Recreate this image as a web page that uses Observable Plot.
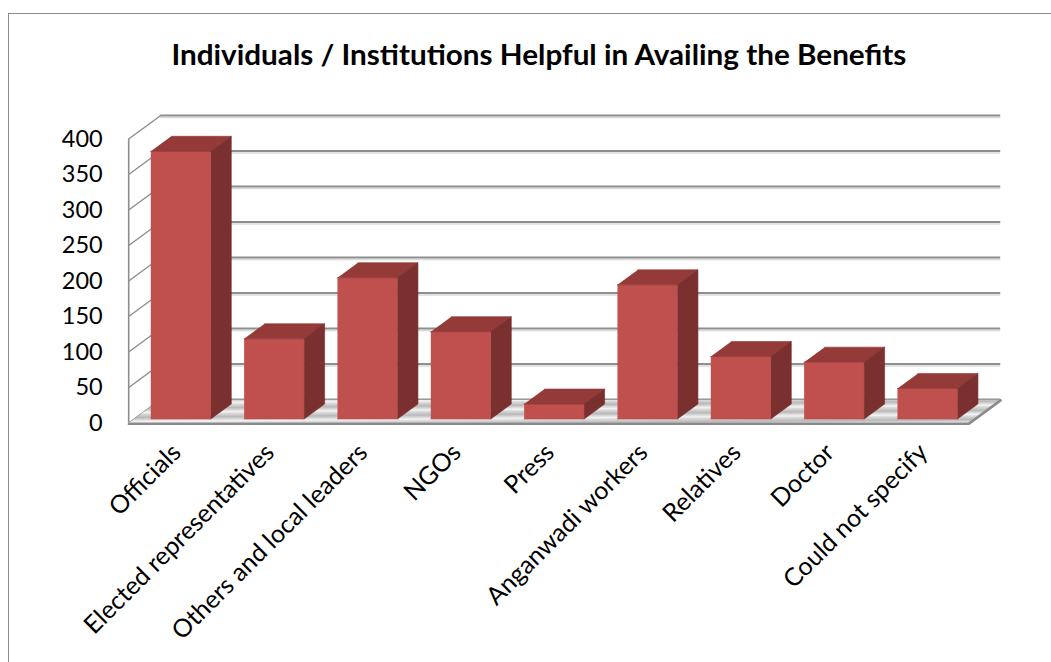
<!DOCTYPE html>
<html>
<head>
<meta charset="utf-8">
<script src="https://cdn.jsdelivr.net/npm/d3@7"></script>
<script src="https://cdn.jsdelivr.net/npm/@observablehq/plot@0.6"></script>
<style>
  html, body { margin: 0; padding: 0; background: #fff; width: 1051px; height: 662px; overflow: hidden; }
  #wrap { position: relative; width: 1051px; height: 662px; }
  #frame { position: absolute; left: 8px; top: 12.5px; width: 1100px; height: 700px;
           border: 1.5px solid #8c8c8c; box-sizing: border-box; pointer-events: none; }
  #title { height: 100px; width: 1051px; text-align: center; box-sizing: border-box; padding-top: 39.5px; padding-left: 27px; }
  #title span { display: inline-block; font-family: Lato, "Open Sans", sans-serif; font-weight: bold;
                font-size: 28px; line-height: 28px; color: #000; white-space: nowrap; transform-origin: 50% 50%; }
  #chart svg { display: block; }
</style>
</head>
<body>
<svg width="0" height="0" style="position:absolute">
  <defs>
    <linearGradient id="floorGrad" x1="0" y1="0" x2="0.111" y2="0.35" spreadMethod="repeat">
      <stop offset="0" stop-color="#b9b9b9"/>
      <stop offset="0.45" stop-color="#f4f4f4"/>
      <stop offset="0.6" stop-color="#dcdcdc"/>
      <stop offset="1" stop-color="#b9b9b9"/>
    </linearGradient>
  </defs>
</svg>
<div id="wrap">
  <div id="title"><span>Individuals / Institutions Helpful in Availing the Benefits</span></div>
  <div id="chart"></div>
  <div id="frame"></div>
</div>
<script>
// ---- data ----
const categories = [
  "Officials",
  "Elected representatives",
  "Others and local leaders",
  "NGOs",
  "Press",
  "Anganwadi workers",
  "Relatives",
  "Doctor",
  "Could not specify"
];
const values = [377, 113, 199, 123, 21, 189, 88, 80, 43];
const yTicks = [0, 50, 100, 150, 200, 250, 300, 350, 400];

// ---- layout ----
const W = 1051, H = 562;
const mL = 128.2, mR = 82.8, mT = 38.5, mB = 239.5;
const xDomain = [-0.5, categories.length - 0.5];
const yDomain = [0, 400];
const kx = (W - mL - mR) / (xDomain[1] - xDomain[0]);   // px per category step
const ky = (H - mT - mB) / (yDomain[1] - yDomain[0]);   // px per unit value
const ox = 32 / kx, oy = 23.5 / ky;                      // oblique depth vector, in data units
const d0 = 0.17, d1 = 0.81, hw = 30 / kx;                // bar depth span, bar half width
const P = (x, y, d) => ({x: x + d * ox, y: y + d * oy});

const fronts = [], topsF = [], sides = [];
values.forEach((v, i) => {
  const L = i - hw, R = i + hw;
  [[L, 0, d0], [R, 0, d0], [R, v, d0], [L, v, d0]].forEach(([x, y, d]) => fronts.push({id: i, ...P(x, y, d)}));
  [[L, v, d0], [R, v, d0], [R, v, d1], [L, v, d1]].forEach(([x, y, d]) => topsF.push({id: i, ...P(x, y, d)}));
  [[R, 0, d0], [R, 0, d1], [R, v, d1], [R, v, d0]].forEach(([x, y, d]) => sides.push({id: i, ...P(x, y, d)}));
});

const x0 = xDomain[0], x1 = xDomain[1];
const floor = [[x0, 0, 0], [x1, 0, 0], [x1, 0, 1], [x0, 0, 1]].map(([x, y, d]) => P(x, y, d));
const floorEdge = [[x0, 0, 0], [x1, 0, 0], [x1, 0, 1]].map(([x, y, d]) => P(x, y, d));

const plot = Plot.plot({
  width: W, height: H,
  marginLeft: mL, marginRight: mR, marginTop: mT, marginBottom: mB,
  x: {type: "linear", domain: xDomain},
  y: {type: "linear", domain: yDomain},
  style: {background: "transparent", fontFamily: "Lato, 'Open Sans', sans-serif", fontSize: "23.5px", color: "#000", overflow: "visible"},
  marks: [
    // back wall gridlines (with light shadow)
    Plot.ruleY(yTicks, {y: d => d + oy, x1: x0 + ox, x2: x1 + ox, stroke: "#dadada", strokeWidth: 1.5, dy: 2}),
    Plot.ruleY(yTicks, {y: d => d + oy, x1: x0 + ox, x2: x1 + ox, stroke: "#8e8e8e", strokeWidth: 1.8}),
    // side wall gridlines
    Plot.link(yTicks, {x1: x0, y1: d => d, x2: x0 + ox, y2: d => d + oy, stroke: "#8e8e8e", strokeWidth: 1.5}),
    // side wall front edge
    Plot.ruleX([x0], {y1: 0, y2: 400, stroke: "#8e8e8e", strokeWidth: 1.6}),
    // floor
    Plot.line(floor, {x: "x", y: "y", fill: "url(#floorGrad)", stroke: "#9a9a9a", strokeWidth: 1.2}),
    Plot.line(floorEdge, {x: "x", y: "y", stroke: "#8a8a8a", strokeWidth: 2.2, dy: 1}),
    // bars
    Plot.line(fronts, {x: "x", y: "y", z: "id", fill: "#C0504D", stroke: "#b84a47", strokeWidth: 0.6}),
    Plot.line(topsF, {x: "x", y: "y", z: "id", fill: "#943A38", stroke: "#8e3634", strokeWidth: 0.6}),
    Plot.line(sides, {x: "x", y: "y", z: "id", fill: "#7A302E", stroke: "#752d2b", strokeWidth: 0.6}),
    // axes
    Plot.axisY(yTicks, {tickSize: 0, tickPadding: 26, label: null, fill: "#000"}),
    Plot.axisX(d3.range(categories.length), {
      tickFormat: i => categories[i], tickRotate: -45, textAnchor: "end", lineAnchor: "bottom",
      tickSize: 0, tickPadding: 31, dx: 7, label: null, fill: "#000", fontSize: 25
    })
  ]
});
document.getElementById("chart").appendChild(plot);

// fit title width to the reference (≈735px)
const span = document.querySelector("#title span");
const w = span.getBoundingClientRect().width;
span.style.transform = `scaleX(${735 / w})`;
</script>
</body>
</html>
